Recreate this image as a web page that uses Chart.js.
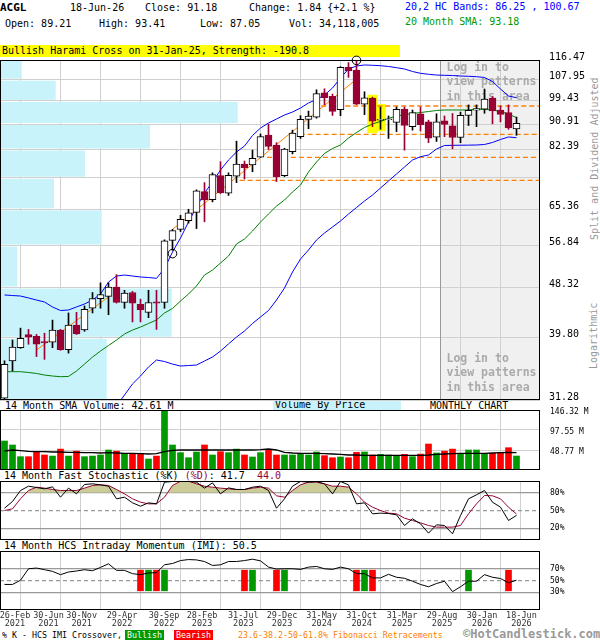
<!DOCTYPE html>
<html lang="en">
<head>
<meta charset="UTF-8">
<title>ACGL Monthly Chart</title>
<script src="https://cdn.jsdelivr.net/npm/chart.js@4"></script>
<style>
  body { margin: 0; background: #fff; }
  #page { position: relative; width: 600px; height: 640px; overflow: hidden;
          font-family: "DejaVu Sans Mono", monospace; font-size: 10px; color: #000; }
  .t { position: absolute; white-space: pre; line-height: 12px; }
  .rot { position: absolute; white-space: pre; line-height: 12px; color: #999;
         text-align: center; transform: rotate(-90deg); }
  canvas { position: absolute; left: 0; }
</style>
</head>
<body>
<div id="page">
  <!-- header -->
  <div class="t" style="left:0;top:2px;font-weight:bold;font-size:11px">ACGL</div>
  <div class="t" style="left:70px;top:2px">18-Jun-26</div>
  <div class="t" style="left:145px;top:2px">Close: 91.18</div>
  <div class="t" style="left:249px;top:2px">Change: 1.84 {+2.1 %}</div>
  <div class="t" style="left:405px;top:1px;color:#0000ff">20,2 HC Bands: 86.25 , 100.67</div>
  <div class="t" style="left:5px;top:18px">Open: 89.21</div>
  <div class="t" style="left:99px;top:18px">High: 93.41</div>
  <div class="t" style="left:200px;top:18px">Low: 87.05</div>
  <div class="t" style="left:289px;top:18px">Vol: 34,118,005</div>
  <div class="t" style="left:405px;top:16px;color:#009900">20 Month SMA: 93.18</div>
  <div class="t" style="left:0;top:45px;width:400px;height:12px;background:#ffff00;padding-left:2px;box-sizing:border-box">Bullish Harami Cross on 31-Jan-25, Strength: -190.8</div>

  <div class="rot" style="left:515px;top:154px;width:160px">Split and Dividend Adjusted</div>
  <div class="rot" style="left:561px;top:330px;width:66px">Logarithmic</div>

  <!-- panel captions -->
  <div class="t" style="left:5px;top:400px">14 Month SMA Volume: 42.61 M</div>
  <div class="t" style="left:273px;top:400px;width:128px;height:10px;line-height:10px;background:#c9f3fb;padding-left:2px;box-sizing:border-box">Volume By Price</div>
  <div class="t" style="left:430px;top:400px">MONTHLY CHART</div>
  <div class="t" style="left:4px;top:470px">14 Month Fast Stochastic (%K) <span style="color:#990033">(%D)</span>: 41.7  <span style="color:#990033">44.0</span></div>
  <div class="t" style="left:4px;top:540px">14 Month HCS Intraday Momentum (IMI): 50.5</div>

  <!-- legend -->
  <div class="t" style="left:2px;top:630px;font-size:8.3px;line-height:10px">% K - HCS IMI Crossover,</div>
  <div class="t" style="left:125px;top:630px;font-size:8.3px;line-height:10px;background:#009900;color:#fff;padding:0 2px">Bullish</div>
  <div class="t" style="left:174px;top:630px;font-size:8.3px;line-height:10px;background:#ff0000;color:#fff;padding:0 2px">Bearish</div>
  <div class="t" style="left:238px;top:630px;font-size:8.3px;line-height:10px;color:#ff8000">23.6-38.2-50-61.8% Fibonacci Retracements</div>
  <div class="t" style="left:463px;top:627px;font-size:12px;line-height:14px;color:#999;font-weight:bold">&copy;HotCandlestick.com</div>

  <canvas id="price" width="600" height="352" style="top:50px"></canvas>
  <canvas id="vol" width="600" height="74" style="top:400px"></canvas>
  <canvas id="stoch" width="600" height="70" style="top:474px"></canvas>
  <canvas id="imi" width="600" height="85" style="top:545px"></canvas>
</div>

<script>
// monthly candles, Feb 2021 .. Jun 2026
const open  = [31.5,36.4,38.3,40.3,40.0,39.2,39.1,41.0,38.0,41.8,41.0,44.6,46.3,46.7,48.4,45.6,47.4,45.3,43.9,45.7,
               45.6,58.0,60.5,62.6,64.6,70.0,67.9,74.5,69.6,74.3,77.9,77.6,80.0,87.1,83.8,74.5,81.7,86.6,92.6,93.4,
               102.6,101.2,96.1,113.2,112.0,98.2,100.5,92.3,92.5,91.5,96.3,90.0,94.6,91.7,86.4,92.1,90.3,86.3,94.0,95.9,
               96.3,100.5,96.0,95.0,89.21];
const high  = [36.4,39.45,41.3,41.1,40.3,40.5,42.6,41.1,43.8,43.9,45.0,47.4,49.2,49.2,50.8,47.8,47.6,46.2,47.8,47.8,
               58.1,60.5,63.9,65.4,70.5,72.5,75.3,78.6,75.3,85.1,78.8,82.2,87.5,90.9,84.6,82.8,88.8,93.9,95.6,103.8,
               104.2,102.1,113.5,115.3,116.4,103.0,100.9,97.1,93.8,97.1,97.1,96.0,97.1,92.3,94.6,93.8,94.7,95.2,97.9,97.9,
               104.1,101.1,97.5,97.9,93.41];
const low   = [31.3,35.0,38.2,38.8,37.0,36.6,38.3,37.9,37.5,40.3,40.8,43.8,44.6,43.5,45.5,44.6,42.3,42.3,43.0,41.1,
               44.6,55.8,60.0,62.0,60.7,62.3,67.3,69.5,69.0,72.5,73.5,75.6,79.9,82.4,72.8,74.2,81.0,86.0,89.3,93.0,
               98.0,94.0,93.9,108.9,98.0,94.3,90.0,89.1,86.0,88.3,82.2,88.8,88.5,84.6,85.0,86.6,82.6,84.6,90.4,90.0,
               94.8,91.0,91.7,89.1,87.05];
const close = [35.9,38.4,39.7,39.9,38.8,39.0,41.0,38.0,41.8,40.4,44.4,46.3,47.0,48.4,45.6,47.3,45.5,44.3,45.6,45.5,
               57.9,60.2,62.9,64.5,70.2,67.8,74.8,69.7,74.6,77.9,76.8,79.6,86.6,83.4,74.2,82.5,87.8,92.6,93.8,102.3,
               100.7,95.5,113.2,111.7,98.2,100.6,91.9,92.6,92.8,96.2,90.4,95.0,90.7,86.1,91.7,90.8,86.3,94.0,95.9,96.5,
               100.1,95.7,94.4,89.6,91.18];

// 20,2 bands and 20 month SMA
const upperBand = [46.95,46.85,46.76,46.41,46.04,45.69,44.82,44.21,44.30,44.82,45.34,46.04,47.12,49.36,50.52,50.71,50.52,50.33,50.23,50.07,
                   52.01,55.43,58.52,62.25,65.97,69.64,72.67,76.12,79.12,81.60,83.52,86.98,89.54,91.29,92.71,94.15,95.25,96.74,98.63,99.98,
                   101.73,104.52,108.64,112.49,113.80,114.25,114.11,113.93,113.58,113.06,112.49,111.40,110.63,110.21,109.90,109.77,109.69,109.48,109.36,109.19,
                   108.85,107.18,104.12,101.34,100.67];
const lowerBand = [null,null,null,null,null,null,null,null,null,null,null,null,null,null,30.6,31.89,33.28,34.32,35.54,36.51,
                   36.30,35.94,35.67,35.74,35.81,36.37,36.93,37.80,38.85,39.90,40.85,42.05,43.12,44.21,46.04,48.23,51.31,53.95,55.87,58.06,
                   59.66,61.06,62.49,64.21,65.84,67.52,69.10,71.00,72.95,74.95,77.00,79.12,80.14,80.67,82.55,83.68,83.74,83.77,83.80,83.85,
                   84.01,84.67,85.65,86.48,86.25];
const sma20 = [34.90,34.90,34.90,34.79,34.66,34.45,34.32,34.23,34.26,34.99,35.94,36.93,37.80,38.62,39.44,40.37,41.00,41.48,42.05,42.62,
               43.79,44.56,45.87,47.12,48.61,50.71,51.71,53.12,54.58,57.18,58.30,60.12,62.25,64.21,66.22,67.78,69.91,71.83,75.53,78.51,
               81.14,82.72,83.85,86.14,87.99,89.72,90.94,91.83,92.90,93.80,94.27,94.70,95.07,95.44,95.81,96.00,96.00,96.00,96.00,96.29,
               96.25,96.00,95.44,94.52,93.18];

// trend lines, fibonacci levels, pattern marks
const trendA = [{x: 4, y: 37.95}, {x: 13, y: 46.6}];
const trendB = [{x: 21, y: 60.5}, {x: 44.5, y: 109.5}];
const fibLevels = [97.49, 87.34, 79.91, 73.11];
const fibStart = [39.6, 36.9, 32.8, 29.4];
const patternMarks = [{x: 21, y: 55.1}, {x: 44, y: 116.3}];
const highlightIdx = [46, 47];
const highlightRange = [[87.9, 101.7], [88.5, 98.1]];
const loginFrom = 54.5;

// price axis and volume by price (one value per band between price ticks)
const priceTicks = [31.28, 39.80, 48.32, 56.84, 65.36, 73.88, 82.39, 90.91, 99.43, 107.95, 116.47];
const hiddenPriceTick = 73.88;
const vbpVolume = [427, 687, 69, 407, 216, 340, 600, 951, 223, 87];
const vbpMax = 2160;

// volume, millions
const volume = [70.7,61,32.5,32.5,44.7,36.6,34,51,34,46,32.5,34,36.6,48.8,46,40.6,38.2,40.6,26.8,34,
                144.7,61,42.3,30,43.9,61,36.6,44.7,42.3,51,36.6,31.7,42.3,48.8,36.6,36.6,36.6,39.8,36.6,43.9,
                35,30,31.7,30,43,43.9,36.6,38.2,36.6,35,38.2,32.5,38.8,63.4,41.5,46,51,40.6,48.8,48.8,
                38.2,40.6,42.3,54.4,34.12];
const volSma = [46.3,48.8,47.1,45.5,44.7,44.7,43.9,43.9,43.1,43.1,42.3,42.3,41.5,42.3,41.5,40.6,40.6,39.8,39.0,39.8,
                44.7,48.0,48.8,48.8,48.8,48.8,48.8,48.8,48.8,48.8,48.8,48.8,49.6,51.2,48.8,43.1,41.5,40.6,40.6,40.6,
                39.8,39.0,38.2,36.6,36.6,35.8,35.8,35.8,35.8,35.8,35.8,35.8,35.8,36.6,38.2,39.0,39.8,40.6,40.6,40.6,
                40.6,41.5,42.3,43.1,42.61];
const volTicks = [48.77, 97.55, 146.32];

// 14 month fast stochastic
const stochK = [53.9,65.3,83.9,91.2,89.0,86.7,90.1,72.6,87.9,78.2,94.1,95.2,93.5,91.2,69.8,72.6,63.0,57.3,63.0,61.3,
                98.0,99.2,99.2,99.7,98.0,87.9,96.9,78.2,88.4,85.6,85.6,89.5,91.2,83.9,53.9,69.8,91.2,99.2,98.0,99.2,
                95.2,78.2,99.2,93.5,61.3,63.0,44.4,45.5,44.9,42.7,24.6,35.9,27.4,11.6,25.7,24.6,10.5,41.5,69.8,76.6,
                83.9,64.1,55.6,33.1,41.7];
const stochD = [50.0,52.8,69.8,83.9,89.5,87.9,85.6,83.9,83.9,83.9,87.9,92.4,93.5,92.4,85.6,78.2,69.8,64.1,61.3,61.3,
                72.6,92.4,99.7,99.7,95.2,91.2,89.5,87.9,86.7,85.6,85.6,87.9,89.5,87.9,74.9,72.6,83.9,93.5,98.0,98.0,
                95.2,91.2,91.2,89.5,78.2,64.1,55.6,50.0,45.5,44.4,37.0,33.1,29.1,24.6,21.8,21.8,21.8,24.6,44.4,61.3,
                75.4,74.9,69.8,55.6,44.0];

// 14 month HCS intraday momentum and %K crossovers
const imi = [43.3,43.3,50.5,69.9,71.1,68.3,65.5,59.9,64.4,66.1,68.3,66.6,72.2,78.3,67.2,67.2,61.6,59.9,62.7,63.3,
             76.6,78.8,83.8,85.5,84.9,82.2,75.5,76.6,82.2,82.2,83.8,86.1,83.3,72.7,69.4,69.9,69.9,68.8,72.7,73.8,
             69.9,68.8,72.7,69.9,61.6,61.6,54.4,54.4,60.5,55.5,53.8,48.8,43.3,39.4,44.9,48.8,31.1,39.4,48.8,48.8,
             59.9,55.5,53.3,46.1,50.5];
const imiCrossIdx  = [17, 18, 19, 20, 30, 31, 34, 35, 44, 45, 46, 58, 63];
const imiCrossType = ['bear','bull','bear','bull','bear','bull','bear','bull','bear','bull','bear','bull','bear'];
const imiCrossBand = [32.5, 67.5];

// date axis: grid at month ends, labels placed near them
const gridPos = [4.5, 9.5, 14.5, 19.5, 24.5, 29.5, 34.5, 39.5, 44.5, 49.5, 54.5, 59.5, 64.5];
const xLabelPos = [1.31, 5.5, 9.65, 14.69, 19.94, 24.69, 29.85, 34.69, 39.65, 44.65, 49.69, 54.69, 59.69, 64.62];
const xTickText = [['26-Feb','2021'],['30-Jun','2021'],['30-Nov','2021'],['29-Apr','2022'],['30-Sep','2022'],
                   ['28-Feb','2023'],['31-Jul','2023'],['29-Dec','2023'],['31-May','2024'],['31-Oct','2024'],
                   ['31-Mar','2025'],['29-Aug','2025'],['30-Jan','2026'],['18-Jun','2026']];

const X_MIN = -0.5625, X_MAX = 66.9375;
const DOWN = '#990033', ORANGE = '#ff8000', GRID = '#d0d0d0';

Chart.defaults.font.family = '"DejaVu Sans Mono", monospace';
Chart.defaults.color = '#000';

const idx = close.map((_, i) => i);
const isUp = i => close[i] >= open[i];
const pts = arr => arr.map((v, i) => ({x: i, y: v}));

function timeAxis() {
  return {
    type: 'linear', min: X_MIN, max: X_MAX, offset: false, weight: 0,
    afterBuildTicks: s => { s.ticks = gridPos.map(v => ({value: v})); },
    afterFit: s => { s.height = 0; s.paddingLeft = 0; s.paddingRight = 0; },
    ticks: {display: false},
    grid: {color: GRID, drawTicks: false},
    border: {display: false}
  };
}

function rightAxis(extra) {
  return Object.assign({
    position: 'right',
    afterFit: s => { s.width = 60; s.paddingTop = 0; s.paddingBottom = 0; },
    grid: {drawTicks: false, color: GRID},
    border: {display: false},
    ticks: {padding: 10, autoSkip: false, font: {size: 8}}
  }, extra);
}

function baseOptions(padding, scales) {
  return {
    responsive: false, animation: false, events: [],
    layout: {padding: padding, autoPadding: false},
    plugins: {legend: {display: false}, tooltip: {enabled: false}},
    scales: scales
  };
}

const frame = {
  id: 'frame',
  afterDraw(c) {
    const a = c.chartArea, g = c.ctx;
    g.save();
    g.strokeStyle = '#000';
    g.lineWidth = 1;
    g.strokeRect(a.left + 0.5, a.top + 0.5, a.right - a.left - 1, a.bottom - a.top - 1);
    g.restore();
  }
};

const priceDecor = {
  id: 'priceDecor',
  beforeDraw(c) {
    const {ctx, chartArea: a} = c;
    const gx = c.scales.x.getPixelForValue(loginFrom);
    ctx.save();
    ctx.fillStyle = '#f0f0f0';
    ctx.fillRect(gx, a.top, a.right - gx, a.bottom - a.top);
    ctx.restore();
  },
  beforeDatasetsDraw(c) {
    const {ctx, chartArea: a, scales} = c;
    ctx.save();
    ctx.fillStyle = '#c9f3fb';
    vbpVolume.forEach((v, k) => {
      const top = scales.y.getPixelForValue(priceTicks[k + 1]) + 1;
      const bot = scales.y.getPixelForValue(priceTicks[k]) - 1;
      ctx.fillRect(a.left, top, scales.xv.getPixelForValue(v) - a.left, bot - top);
    });
    const gx = Math.round(scales.x.getPixelForValue(loginFrom) - 0.5) + 0.5;
    ctx.strokeStyle = '#999';
    ctx.lineWidth = 1;
    ctx.beginPath();
    ctx.moveTo(gx, a.top);
    ctx.lineTo(gx, a.bottom);
    ctx.stroke();
    ctx.fillStyle = '#aaa';
    ctx.font = 'bold 11.5px "DejaVu Sans Mono", monospace';
    ctx.textBaseline = 'middle';
    ['Log in to', 'view patterns', 'in this area'].forEach((s, k) => {
      ctx.fillText(s, gx + 6, a.top + 8 + k * 14.5);
      ctx.fillText(s, gx + 6, a.bottom - 41 + k * 14.5);
    });
    ctx.restore();
  }
};

// ---- price panel
const priceSets = [
  {type: 'scatter', data: patternMarks, pointRadius: 4.3, pointBorderWidth: 1,
   pointBorderColor: '#000', pointBackgroundColor: 'rgba(0,0,0,0)', clip: false},
  {type: 'bar', data: idx.map(i => ({x: i, y: [open[i], close[i]]})), barThickness: 7, grouped: false,
   backgroundColor: idx.map(i => isUp(i) ? '#fff' : DOWN),
   borderColor: idx.map(i => isUp(i) ? '#000' : DOWN), borderWidth: 1, borderSkipped: false},
  {type: 'bar', data: idx.map(i => ({x: i, y: [low[i], high[i]]})), barThickness: 1, grouped: false,
   backgroundColor: idx.map(i => isUp(i) ? '#000' : DOWN), borderWidth: 0},
  {type: 'line', data: pts(upperBand), borderColor: '#0000ff', borderWidth: 1, pointRadius: 0},
  {type: 'line', data: pts(lowerBand), borderColor: '#0000ff', borderWidth: 1, pointRadius: 0},
  {type: 'line', data: pts(sma20), borderColor: '#008000', borderWidth: 1, pointRadius: 0},
  {type: 'line', data: trendA, borderColor: ORANGE, borderWidth: 1, pointRadius: 0},
  {type: 'line', data: trendB, borderColor: ORANGE, borderWidth: 1, pointRadius: 0}
];
fibLevels.forEach((lvl, k) => {
  priceSets.push({type: 'line', data: [{x: fibStart[k], y: lvl}, {x: X_MAX, y: lvl}],
                  borderColor: ORANGE, borderWidth: 1.3, borderDash: [5, 3], pointRadius: 0});
});
priceSets.push({type: 'bar', data: highlightIdx.map((i, k) => ({x: i, y: highlightRange[k]})),
                barThickness: 10, grouped: false, backgroundColor: '#ffff00'});

new Chart(document.getElementById('price'), {
  type: 'line',
  data: {datasets: priceSets},
  options: baseOptions({top: 10, bottom: 2, left: 0, right: 0}, {
    x: timeAxis(),
    xv: {type: 'linear', display: false, min: 0, max: vbpMax},
    yFib: {
      type: 'logarithmic', position: 'right', min: priceTicks[0], max: priceTicks[priceTicks.length - 1],
      weight: 0, afterFit: s => { s.width = 0; s.paddingTop = 0; s.paddingBottom = 0; },
      afterBuildTicks: s => { s.ticks = fibLevels.map(v => ({value: v})); },
      grid: {display: false, drawTicks: false}, border: {display: false},
      ticks: {padding: 5, autoSkip: false, color: ORANGE, font: {size: 8, weight: 'bold'},
              callback: v => v.toFixed(2)}
    },
    y: rightAxis({
      type: 'logarithmic', min: priceTicks[0], max: priceTicks[priceTicks.length - 1], weight: 1,
      afterBuildTicks: s => { s.ticks = priceTicks.map(v => ({value: v})); },
      ticks: {padding: 9, autoSkip: false, labelOffset: -3, font: {size: 10},
              callback: v => Math.abs(v - hiddenPriceTick) < 0.001 ? '' : v.toFixed(2)}
    })
  }),
  plugins: [priceDecor, frame]
});

// ---- volume panel
new Chart(document.getElementById('vol'), {
  type: 'line',
  data: {datasets: [
    {type: 'line', data: pts(volSma), borderColor: '#000', borderWidth: 1.3, pointRadius: 0},
    {type: 'bar', data: pts(volume), barThickness: 6, grouped: false,
     backgroundColor: idx.map(i => isUp(i) ? '#009900' : '#ff0000')}
  ]},
  options: baseOptions({top: 10, bottom: 4, left: 0, right: 0}, {
    x: timeAxis(),
    y: rightAxis({
      min: 0, max: volTicks[volTicks.length - 1],
      afterBuildTicks: s => { s.ticks = volTicks.map(v => ({value: v})); },
      ticks: {padding: 10, autoSkip: false, labelOffset: 1.7, font: {size: 8},
              callback: v => v.toFixed(2) + ' M'}
    })
  }),
  plugins: [frame]
});

// ---- oscillator panels
function levelAxis(levels) {
  return rightAxis({
    min: 0, max: 100,
    afterBuildTicks: s => { s.ticks = levels.map(v => ({value: v})); },
    grid: {drawTicks: false, color: '#999', lineWidth: 1.2},
    border: {display: false, dash: ctx => (ctx.tick && ctx.tick.value === 50) ? [4, 3] : []},
    ticks: {padding: 10, autoSkip: false, font: {size: 8}, callback: v => v + '%'}
  });
}

new Chart(document.getElementById('stoch'), {
  type: 'line',
  data: {datasets: [
    {type: 'line', data: pts(stochK), borderColor: '#000', borderWidth: 1, pointRadius: 0},
    {type: 'line', data: pts(stochD), borderColor: DOWN, borderWidth: 1, pointRadius: 0,
     fill: {target: {value: 80}, above: '#cccc99', below: 'rgba(0,0,0,0)'}}
  ]},
  options: baseOptions({top: 7, bottom: 4, left: 0, right: 0}, {
    x: timeAxis(),
    y: levelAxis([20, 50, 80])
  }),
  plugins: [frame]
});

// date labels live on their own axis so they can sit beside the month-end grid lines
const dateAxis = {
  type: 'linear', min: X_MIN, max: X_MAX, offset: false, position: 'bottom', weight: 1,
  afterBuildTicks: s => { s.ticks = xLabelPos.map(v => ({value: v})); },
  afterFit: s => { s.height = 18; s.paddingLeft = 0; s.paddingRight = 0; },
  grid: {display: false, drawTicks: false},
  border: {display: false},
  ticks: {display: true, padding: 2, autoSkip: false, maxRotation: 0, minRotation: 0, color: '#333',
          font: {size: 8.5, lineHeight: '8px'}, callback: (v, i) => xTickText[i]}
};

new Chart(document.getElementById('imi'), {
  type: 'line',
  data: {datasets: [
    {type: 'line', data: pts(imi), borderColor: '#000', borderWidth: 1, pointRadius: 0},
    {type: 'bar', data: imiCrossIdx.map(i => ({x: i, y: imiCrossBand})), barThickness: 6, grouped: false,
     backgroundColor: imiCrossType.map(t => t === 'bull' ? '#009900' : '#ff0000')}
  ]},
  options: baseOptions({top: 6, bottom: 2, left: 0, right: 0}, {
    x: timeAxis(),
    xDate: dateAxis,
    y: levelAxis([30, 50, 70])
  }),
  plugins: [frame]
});
</script>
</body>
</html>
